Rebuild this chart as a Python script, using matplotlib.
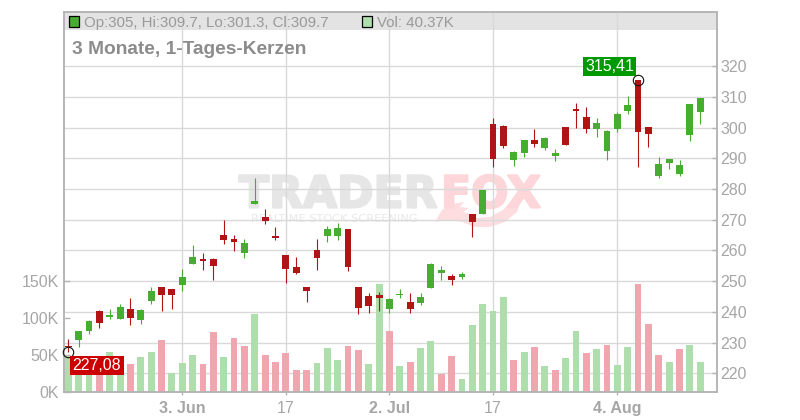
import matplotlib
matplotlib.use("Agg")
import matplotlib.pyplot as plt
import matplotlib.patheffects as pe
from matplotlib.patches import Rectangle, Polygon

W, H = 800, 420
plt.rcParams['font.family'] = ['Liberation Sans', 'DejaVu Sans']

# body_top, body_bottom, high, low  (price), per trading day
body_top = [228.89,233.78,237.03,240.29,238.99,241.59,240.94,240.62,246.81,248.11,247.46,251.37,257.88,257.23,257.23,265.05,263.74,262.44,276.12,270.91,264.72,258.53,254.62,248.11,260.16,267.00,267.33,267.00,248.11,245.18,245.50,244.20,245.83,243.22,244.85,255.60,253.65,251.69,252.34,271.89,279.70,
            301.21,300.56,292.09,296.00,296.00,296.65,291.76,300.23,306.09,303.49,301.53,298.93,304.47,307.40,315.41,300.23,288.18,289.81,287.85,307.72,309.70]
body_bot = [228.46,230.84,233.78,236.38,238.34,237.68,238.01,237.36,243.55,245.50,245.50,248.76,255.60,256.58,254.95,263.42,262.77,259.18,275.14,269.61,264.07,253.97,252.67,246.81,257.55,264.72,264.72,254.62,241.27,241.92,244.52,240.94,245.50,240.94,242.90,247.78,252.67,250.39,251.37,269.28,271.89,
            289.81,294.04,289.48,291.76,294.69,293.39,290.78,294.37,305.44,299.58,299.58,292.41,299.58,305.44,298.60,297.95,284.27,288.50,284.92,297.63,305.00]
highs = [231.17,233.78,237.25,240.62,240.94,242.57,244.52,240.94,248.11,248.11,247.46,253.97,261.79,259.18,257.55,269.93,265.05,263.74,283.61,273.52,267.65,258.53,257.88,248.11,263.74,267.98,268.96,267.00,248.11,246.15,246.48,244.52,247.35,246.15,246.15,255.93,254.95,252.34,252.99,271.89,279.70,
         303.16,300.88,292.41,296.00,299.58,296.97,293.06,300.23,308.05,306.75,303.16,299.25,305.12,310.33,315.41,300.23,290.46,289.81,289.48,307.72,309.70]
lows = [227.08,228.56,232.80,234.75,237.68,237.68,235.73,236.06,242.57,240.29,240.94,246.81,255.60,253.65,250.39,262.11,259.83,257.55,275.14,268.63,263.42,249.41,252.34,243.22,253.65,262.77,263.42,253.32,239.31,239.64,240.29,239.64,244.52,239.64,242.24,247.78,250.39,248.76,250.71,264.40,271.89,
        287.20,293.39,287.53,290.46,293.72,292.74,289.16,294.37,299.91,298.28,296.97,289.48,298.60,304.47,287.20,293.72,283.62,286.55,284.27,295.67,301.30]
# 1 = rising candle (green), 0 = falling candle (red)
candle_up = [0,1,1,0,1,1,0,1,1,0,0,1,1,0,0,0,0,1,1,0,0,0,0,0,0,1,1,0,0,0,0,1,1,0,1,1,1,0,1,0,1,
             0,0,1,1,0,1,1,0,0,0,1,1,1,1,0,0,1,1,1,1,1]
volumes = [49,40,45,38,54,44,38,47.5,54,70,26,39.4,50,38,81,47.5,73,62,105,50,41,53,30,30,39.4,59.6,43.5,62,57,38,145.6,82.4,35.4,41,59.6,69,24.6,48.8,18,90.5,118.7,
           109.3,128,43.5,54,61,35.4,30,46,82.4,53,58,63.6,36.7,61,145.6,92,50,41,58,63.6,40.37]
vol_up = [1,1,1,0,1,1,0,1,1,0,1,1,1,0,0,1,0,0,1,0,0,0,0,0,1,1,1,0,0,1,1,0,1,0,1,1,0,0,1,1,1,
          1,1,0,1,0,1,0,1,1,0,1,0,1,1,0,0,0,1,0,1,1]

price_ticks = [220,230,240,250,260,270,280,290,300,310,320]
vol_ticks = [0,50,100,150]
x_tick_pos = [11,21,31,41,53]
x_tick_labels = ['3. Jun','17','2. Jul','17','4. Aug']
x_tick_bold = [True,False,True,False,True]

GREEN='#47AD31'; RED='#B11414'; VGREEN='#ADDEAC'; VRED='#EFA6AF'
GRID='#D9D9D9'; AXC='#B4B4B4'; TXT='#A6A6A6'; HEAD='#E3E3E3'

def fx(x): return x/W
def fy(y): return 1-y/H

fig = plt.figure(figsize=(8,4.2), dpi=100, facecolor='white')
L,T,R,B = 63.5,11.7,716.5,392.3
rect = [fx(L), fy(B), (R-L)/W, (B-T)/H]
axv = fig.add_axes(rect, facecolor='none', zorder=1)
axp = fig.add_axes(rect, facecolor='none', zorder=2)

xlim = (-0.463, 62.57)
for a in (axv, axp):
    a.set_xlim(*xlim)
axp.set_ylim(213.81, 337.78)
axv.set_ylim(0, 511.6)

n = len(volumes)
xs = list(range(n))
bw = 0.66

# watermark
fig.text(fx(239), fy(207.5), 'TRADER', fontsize=31.7, fontweight='bold', family='DejaVu Sans', color='#E6E6E6', zorder=0, va='baseline',
         path_effects=[pe.withStroke(linewidth=1.6, foreground='#E6E6E6')])
fig.text(fx(441), fy(207.5), 'FOX', fontsize=31.7, fontweight='bold', family='DejaVu Sans', color='#FDD6DA', zorder=0, va='baseline',
         path_effects=[pe.withStroke(linewidth=1.6, foreground='#FDD6DA')])
fig.text(fx(251), fy(222.5), 'REALTIME STOCK SCREENING', fontsize=8.2, family='DejaVu Sans', color='#E8E8E8', zorder=0, va='baseline')
fig.patches.append(Polygon([(fx(a),fy(b)) for a,b in [(435,222),(442,210),(452,204),(464,202),(460,207),(469,208),(463,212),(470,214),(478,218),(490,217),(503,210),(512,200),(522,198),(517,212),(505,222),(490,227),(475,227),(462,222),(450,220),(445,220)]],
                   closed=True, transform=fig.transFigure, facecolor='#FDDDE0', edgecolor='none', zorder=0, figure=fig))

# header band and grid
axv.add_patch(Rectangle((0,1-(30-T)/(B-T)), 1, (30-T)/(B-T), transform=axv.transAxes, facecolor=HEAD, edgecolor='none', zorder=0))
axv.hlines(price_ticks, 0, 1, transform=axp.get_yaxis_transform(), colors=GRID, lw=1.0, zorder=0.5)
axv.vlines(x_tick_pos, 0, 1, transform=axv.get_xaxis_transform(), colors=GRID, lw=1.0, zorder=0.5)
axv.set_xlim(*xlim); axv.set_ylim(0, 511.6)

# volume
axv.bar(xs, volumes, width=bw, color=[VGREEN if u else VRED for u in vol_up], linewidth=0, zorder=2)

# candles
for i in xs:
    c = GREEN if candle_up[i] else RED
    axp.vlines(i, lows[i], highs[i], colors=c, lw=0.8, zorder=3)
    axp.bar(i, body_top[i]-body_bot[i], bottom=body_bot[i], width=bw, color=c, linewidth=0, zorder=4)

# axes styling
for a in (axv, axp):
    for s in a.spines.values():
        s.set_color(AXC); s.set_linewidth(1.1)
axp.patch.set_visible(False)
axv.yaxis.tick_left()
axv.set_yticks(vol_ticks)
axv.set_yticklabels([f'{v}K' for v in vol_ticks], fontsize=11.5, color=TXT)
axv.tick_params(axis='y', direction='in', length=4, width=1, color=AXC, pad=3.5)
axv.set_xticks(x_tick_pos)
axv.set_xticklabels(x_tick_labels, fontsize=11.5, color=TXT)
for lab,b in zip(axv.get_xticklabels(), x_tick_bold):
    lab.set_fontweight('bold' if b else 'normal')
axv.tick_params(axis='x', direction='out', length=2.5, width=1, color=AXC, pad=3.5)
axp.set_xticks([])
axp.yaxis.tick_right()
axp.set_yticks(price_ticks)
axp.set_yticklabels([str(v) for v in price_ticks], fontsize=11.5, color=TXT)
axp.tick_params(axis='y', direction='in', length=3.5, width=1, color=AXC, pad=3)

# high / low markers and labels
for idx,val,txt,col,off in [(55,highs[55],'315,41','#009900',(-20.4,10.1)),(0,lows[0],'227,08','#CC0000',(20.7,-9.9))]:
    axp.plot([idx],[val], marker='o', ms=7.5, mfc='none', mec='#111111', mew=0.8, clip_on=False, zorder=6, ls='none')
    axp.annotate(txt, (idx,val), xytext=off, textcoords='offset points', ha='center', va='center',
                 fontsize=11.5, color='white', zorder=7,
                 bbox=dict(boxstyle='square,pad=0.14', facecolor=col, edgecolor='none'))

# header legend
fig.text(fx(72), fy(54), '3 Monate, 1-Tages-Kerzen', fontsize=13.75, fontweight='bold', color='#8C8C8C', zorder=5, va='baseline')
fig.text(fx(84), fy(27), 'Op:305, Hi:309.7, Lo:301.3, Cl:309.7', fontsize=10.8, color='#999999', zorder=5, va='baseline')
fig.text(fx(377), fy(27), 'Vol: 40.37K', fontsize=10.8, color='#999999', zorder=5, va='baseline')
for x0,col in [(68.5,GREEN),(361.5,VGREEN)]:
    fig.add_artist(Rectangle((fx(x0),fy(26.5)), 10/W, 10/H, transform=fig.transFigure, facecolor=col, edgecolor='black', lw=0.9, zorder=5))

fig.savefig('out.png', dpi=100)
